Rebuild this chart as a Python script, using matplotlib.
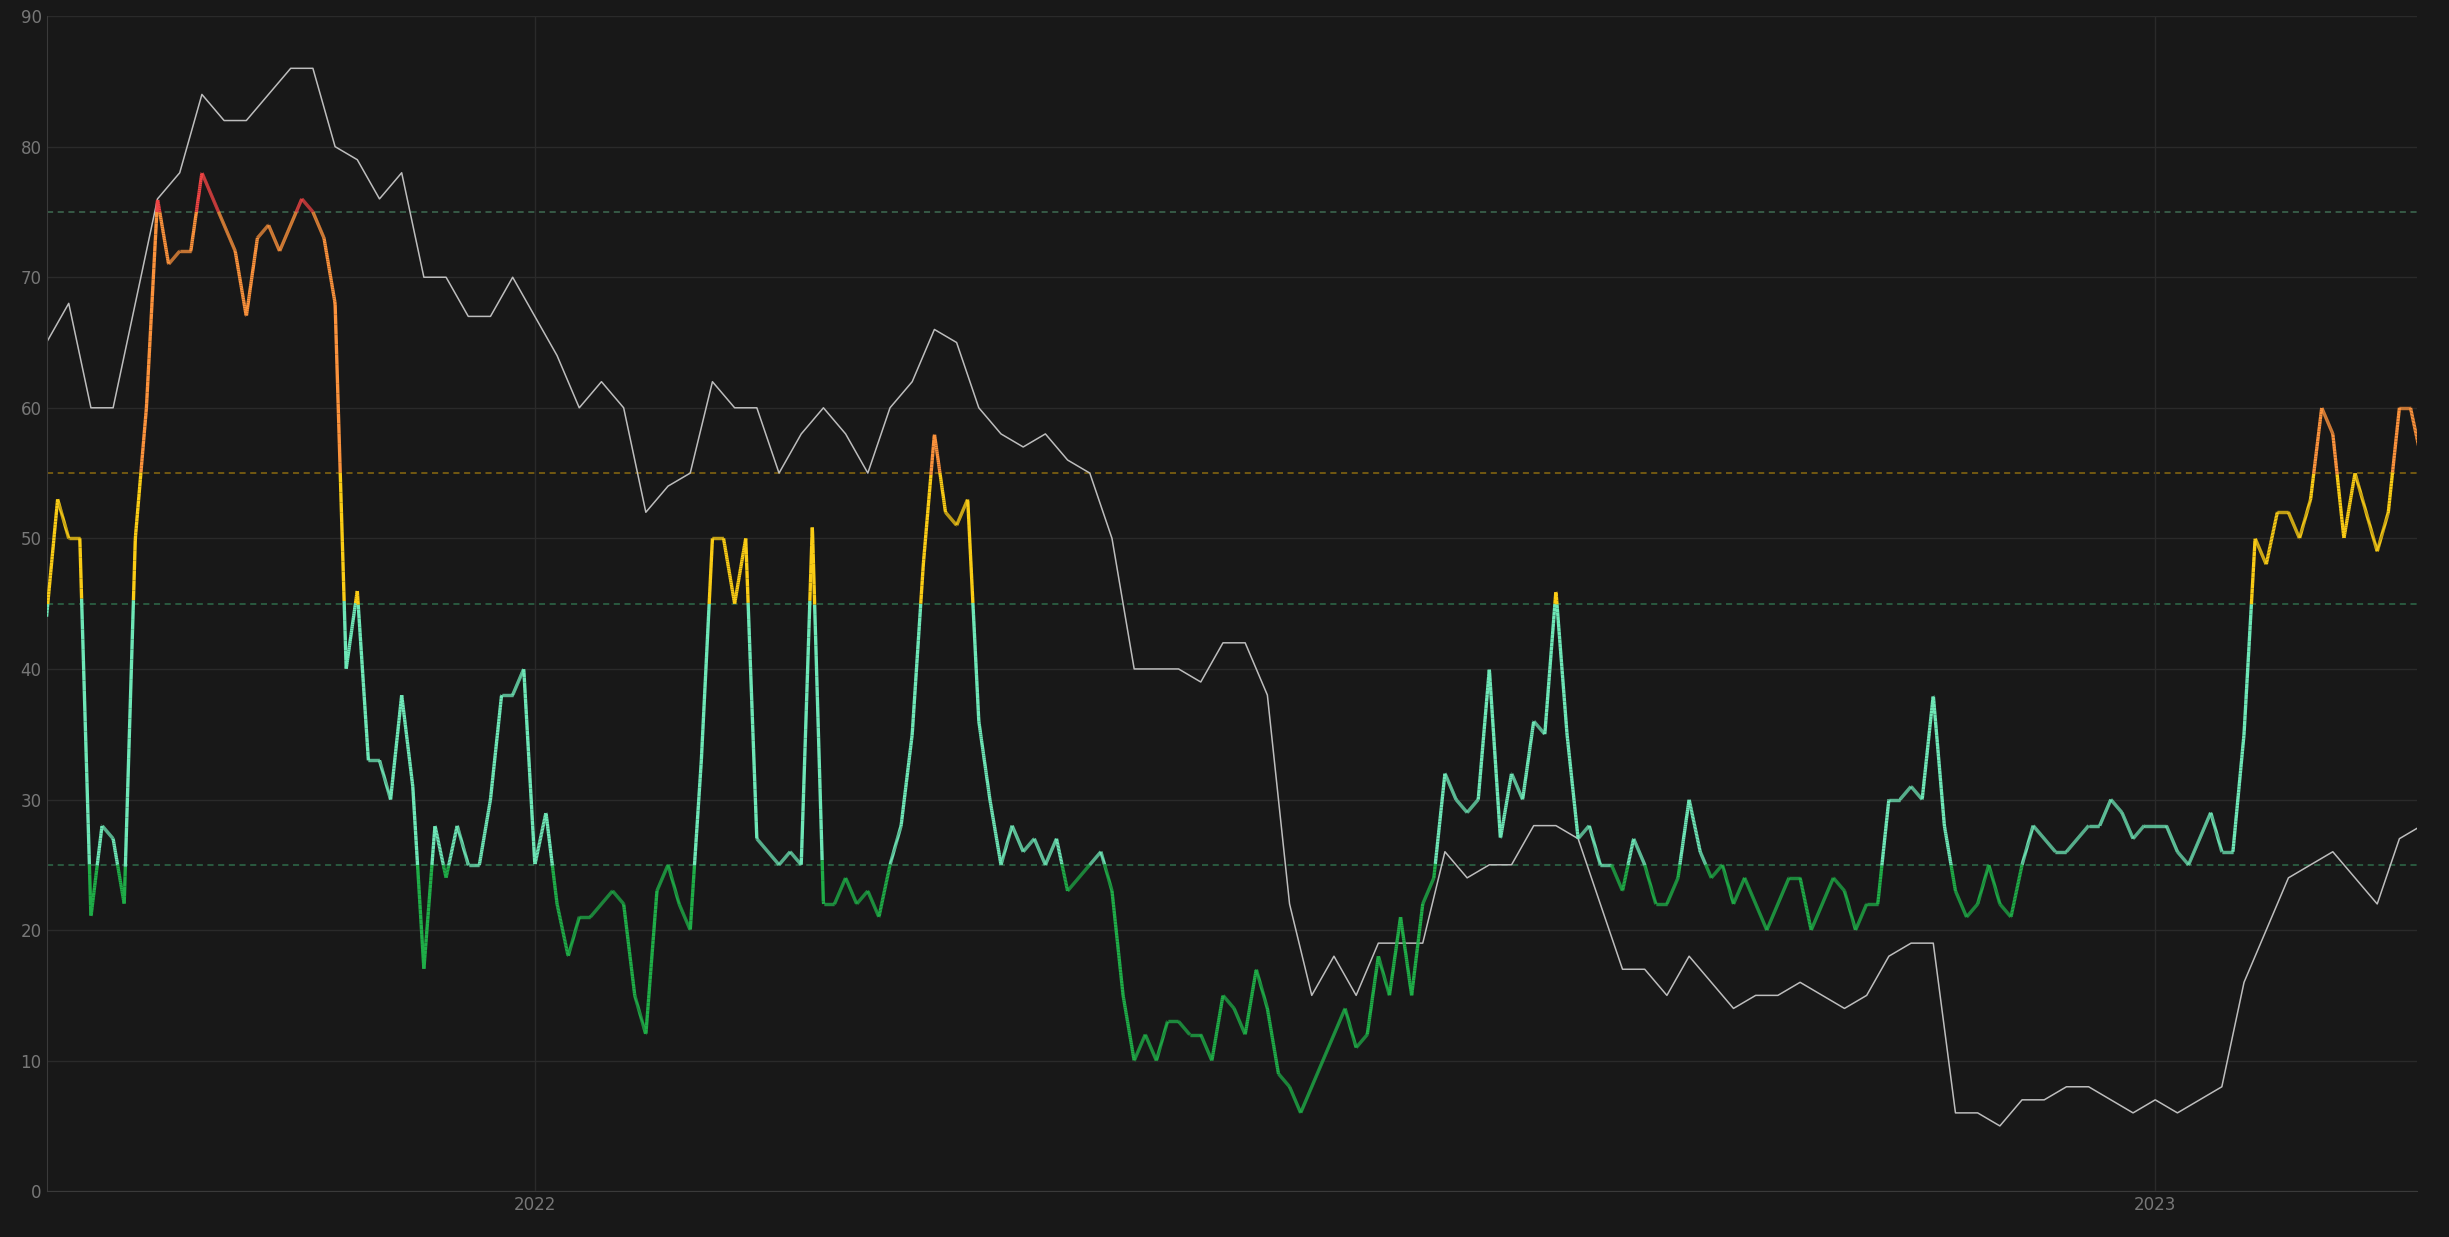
import numpy as np, pandas as pd
import matplotlib
matplotlib.use("Agg")
import matplotlib.pyplot as plt
from matplotlib.collections import LineCollection
import matplotlib.dates as mdates

start = "2021-09-13"
# fear & greed, every 2.5 days
fear_greed = [44,53,50,50,21,28,27,22,50,60,76,71,72,72,78,76,74,72,67,73,74,72,74,76,75,73,68,40,
              46,33,33,30,38,31,17,28,24,28,25,25,30,38,38,40,25,29,22,18,21,21,22,23,22,15,12,23,25,22,
              20,33,50,50,45,50,27,26,25,26,25,51,22,22,24,22,23,21,25,28,35,48,58,52,51,53,36,30,
              25,28,26,27,25,27,23,24,25,26,23,15,10,12,10,13,13,12,12,10,15,14,12,17,14,9,8,6,
              8,10,12,14,11,12,18,15,21,15,22,24,32,30,29,30,40,27,32,30,36,35,46,35,27,28,25,25,
              23,27,25,22,22,24,30,26,24,25,22,24,22,20,22,24,24,20,22,24,23,20,22,22,30,30,31,30,
              38,28,23,21,22,25,22,21,25,28,27,26,26,27,28,28,30,29,27,28,28,28,26,25,27,29,26,26,
              35,50,48,52,52,50,53,60,58,50,55,52,49,52,60,60,56,53,51]
# scaled price series, every 5 days
price_scaled = [65,68,60,60,68,76,78,84,82,82,84,86,86,80,79,76,78,70,70,67,67,70,67,64,60,62,60,52,54,55,
                62,60,60,55,58,60,58,55,60,62,66,65,60,58,57,58,56,55,50,40,40,40,39,42,42,38,22,15,18,15,
                19,19,19,26,24,25,25,28,28,27,22,17,17,15,18,16,14,15,15,16,15,14,15,18,19,19,6,6,5,7,
                7,8,8,7,6,7,6,7,8,16,20,24,25,26,24,22,27,28,27]
fg_dates = pd.date_range(start, periods=len(fear_greed), freq="60h")
pr_dates = pd.date_range(start, periods=len(price_scaled), freq="5D")

def col(v):
    if v < 25: return "#1fae48"
    if v < 45: return "#6ee7b7"
    if v < 55: return "#facc15"
    if v < 75: return "#fb923c"
    return "#ef4444"

fig = plt.figure(figsize=(24.49, 12.37), dpi=100, facecolor="#181818")
ax = fig.add_axes([0.019, 0.037, 0.968, 0.950], facecolor="#181818")

xn = mdates.date2num(fg_dates)
xd = np.linspace(xn[0], xn[-1], 8000)
yd = np.interp(xd, xn, fear_greed)
pts = np.column_stack([xd, yd])
segs = np.stack([pts[:-1], pts[1:]], axis=1)
colors = [col(v) for v in (yd[:-1] + yd[1:]) / 2]
ax.plot(pr_dates, price_scaled, color="#bdbdbd", lw=1.1, zorder=2)
ax.add_collection(LineCollection(segs, colors=colors, linewidths=2.4, zorder=3))

for lv, c in [(25, "#2f6b4a"), (45, "#2f6b4a"), (55, "#8a6a10"), (75, "#3f6b52")]:
    ax.axhline(lv, color=c, ls=(0, (4, 3)), lw=1.1, zorder=1)

ax.set_ylim(0, 90)
ax.set_xlim(pd.Timestamp("2021-09-13"), pd.Timestamp("2023-03-01"))
ax.set_yticks(range(0, 91, 10))
ax.set_xticks([pd.Timestamp("2022-01-01"), pd.Timestamp("2023-01-01")])
ax.set_xticklabels(["2022", "2023"])
ax.grid(True, color="#2a2a2a", lw=1)
ax.tick_params(colors="#777777", labelsize=12, length=0)
for s in ["top", "right"]:
    ax.spines[s].set_visible(False)
for s in ["left", "bottom"]:
    ax.spines[s].set_color("#3a3a3a")
fig.savefig("out.png", dpi=100, facecolor=fig.get_facecolor())
